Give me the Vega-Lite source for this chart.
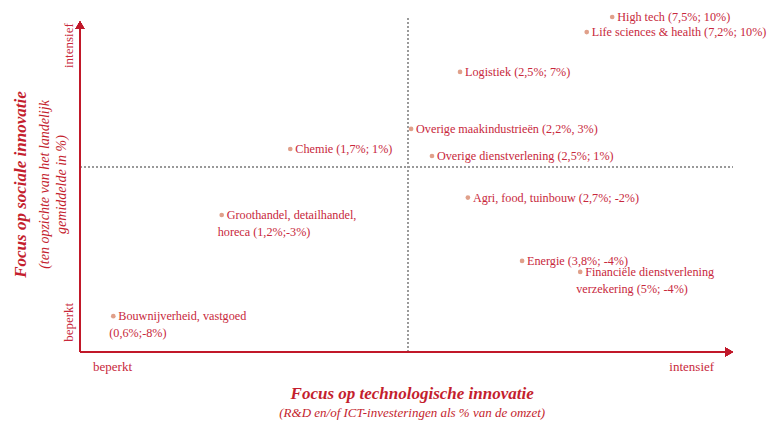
{
  "$schema": "https://vega.github.io/schema/vega-lite/v6.json",
  "background": "white",
  "padding": {"left": 11, "top": 11, "right": 0, "bottom": 0},
  "config": {"view": {"stroke": null}, "font": "Liberation Serif", "concat": {"spacing": 0}},
  "title": {
    "text": "Focus op technologische innovatie",
    "subtitle": "(R&D en/of ICT-investeringen als % van de omzet)",
    "orient": "bottom",
    "anchor": "middle",
    "dx": 23,
    "font": "Liberation Serif",
    "fontSize": 17,
    "fontStyle": "italic",
    "fontWeight": "bold",
    "color": "#c41e2e",
    "subtitleFont": "Liberation Serif",
    "subtitleFontSize": 13,
    "subtitleFontStyle": "italic",
    "subtitleColor": "#c41e2e",
    "subtitlePadding": 4,
    "offset": 13
  },
  "vconcat": [
    {
      "width": 653,
      "height": 335,
      "title": {
        "text": "Focus op sociale innovatie",
        "subtitle": ["(ten opzichte van het landelijk", "gemiddelde in %)"],
        "orient": "left",
        "anchor": "middle",
        "font": "Liberation Serif",
        "fontSize": 17,
        "fontStyle": "italic",
        "fontWeight": "bold",
        "color": "#c41e2e",
        "subtitleFont": "Liberation Serif",
        "subtitleFontSize": 14,
        "subtitleFontStyle": "italic",
        "subtitleColor": "#c41e2e",
        "subtitlePadding": 8,
        "subtitleLineHeight": 17,
        "offset": -8
      },
      "data": {
        "values": [
          {"label1": "High tech (7,5%; 10%)", "x": 81.5, "y": 100},
          {"label1": "Life sciences & health (7,2%; 10%)", "x": 77.6, "y": 95.5},
          {"label1": "Logistiek (2,5%; 7%)", "x": 58.2, "y": 83.6},
          {"label1": "Overige maakindustrieën (2,2%, 3%)", "x": 50.7, "y": 66.6},
          {"label1": "Overige dienstverlening (2,5%; 1%)", "x": 53.9, "y": 58.5},
          {"label1": "Chemie (1,7%; 1%)", "x": 32.2, "y": 60.6},
          {"label1": "Agri, food, tuinbouw (2,7%; -2%)", "x": 59.4, "y": 46.1},
          {"label1": "Groothandel, detailhandel,", "label2": "horeca (1,2%;-3%)", "x": 21.7, "y": 40.9},
          {"label1": "Energie (3,8%; -4%)", "x": 67.7, "y": 27.2},
          {"label1": "Financiële dienstverlening", "label2": "verzekering (5%; -4%)", "x": 76.6, "y": 23.9},
          {"label1": "Bouwnijverheid, vastgoed", "label2": "(0,6%;-8%)", "x": 5.1, "y": 10.7}
        ]
      },
      "encoding": {
        "x": {
          "field": "x",
          "type": "quantitative",
          "scale": {"domain": [0, 100], "nice": false, "zero": false},
          "axis": {
            "values": [4.9, 93.6],
            "labelExpr": "datum.value < 50 ? 'beperkt' : 'intensief'",
            "domain": false,
            "ticks": false,
            "grid": false,
            "title": null,
            "labelFont": "Liberation Serif",
            "labelFontSize": 13,
            "labelColor": "#c8283c",
            "labelPadding": 8,
            "labelAlign": "center"
          }
        },
        "y": {
          "field": "y",
          "type": "quantitative",
          "scale": {"domain": [0, 100], "nice": false, "zero": false},
          "axis": {
            "values": [9, 91.6],
            "labelExpr": "datum.value < 50 ? 'beperkt' : 'intensief'",
            "domain": false,
            "ticks": false,
            "grid": false,
            "title": null,
            "labelAngle": -90,
            "labelAlign": "center",
            "labelBaseline": "bottom",
            "labelFont": "Liberation Serif",
            "labelFontSize": 13,
            "labelColor": "#c8283c",
            "labelPadding": 5
          }
        }
      },
      "layer": [
        {
          "mark": {"type": "rule", "color": "#9a9a9a", "strokeDash": [2, 2], "strokeWidth": 1},
          "encoding": {"x": {"datum": 50.2}, "y": {"datum": 0}, "y2": {"datum": 100}}
        },
        {
          "mark": {"type": "rule", "color": "#9a9a9a", "strokeDash": [2, 2], "strokeWidth": 1},
          "encoding": {"y": {"datum": 55.2}, "x": {"datum": 0}, "x2": {"datum": 100}}
        },
        {
          "mark": {"type": "rule", "color": "#c0182a", "strokeWidth": 1.5},
          "encoding": {"x": {"datum": 0}, "y": {"datum": 0}, "y2": {"datum": 97}}
        },
        {
          "mark": {"type": "rule", "color": "#c0182a", "strokeWidth": 1.5},
          "encoding": {"y": {"datum": 0}, "x": {"datum": 0}, "x2": {"datum": 98.8}}
        },
        {
          "mark": {"type": "point", "shape": "triangle-up", "filled": true, "color": "#c0182a", "size": 80, "opacity": 1},
          "encoding": {"x": {"datum": 0}, "y": {"datum": 97.6}}
        },
        {
          "mark": {"type": "point", "shape": "triangle-right", "filled": true, "color": "#c0182a", "size": 80, "opacity": 1},
          "encoding": {"x": {"datum": 99.4}, "y": {"datum": 0}}
        },
        {
          "mark": {"type": "circle", "color": "#e0a08a", "size": 22, "opacity": 1}
        },
        {
          "mark": {"type": "text", "align": "left", "baseline": "middle", "dx": 5, "dy": 0, "font": "Liberation Serif", "fontSize": 12.2, "color": "#c8283c"},
          "encoding": {"text": {"field": "label1"}}
        },
        {
          "transform": [{"filter": "isValid(datum.label2)"}],
          "mark": {"type": "text", "align": "left", "baseline": "middle", "dx": -4, "dy": 17, "font": "Liberation Serif", "fontSize": 12.2, "color": "#c8283c"},
          "encoding": {"text": {"field": "label2"}}
        }
      ]
    }
  ]
}
